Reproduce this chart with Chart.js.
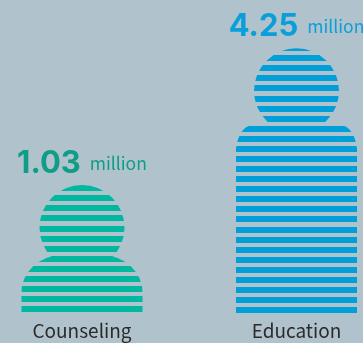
<!DOCTYPE html>
<html>
<head>
<meta charset="utf-8">
<title>People by service</title>
<script src="https://cdn.jsdelivr.net/npm/chart.js@4"></script>
<style>
  html, body { margin: 0; padding: 0; background: #b0c3cc; overflow: hidden; }
  canvas { display: block; }
</style>
</head>
<body>
<canvas id="myChart" width="363" height="343"></canvas>
<script>
const categories = ["Counseling", "Education"];
const values = [1.03, 4.25];
const unit = "million";

const barColors = ["#00b8a0", "#009fd9"];
const valueColors = ["#0f9d88", "#0a9fdb"];

// people are stood on a floor below zero, the head takes up the difference
const axisFloor = -1.98;
const axisCeil = 5.385;

// figure shape, one entry per person
const headRadius = 42.5;
const shoulderDrop = [70, 77];
const shoulderFlat = [20, 44];
const shoulderCurve = [38, 28];
const stripeBottom = [312, 313];

function stripeRects(ctx, bar, i) {
  const left = bar.x - bar.width / 2;
  for (let k = 0; ; k++) {
    let top = stripeBottom[i] - 6 - 10 * k - Math.floor((k + 4) / 13);
    if (top + 6 < bar.y) break;
    ctx.rect(left, top, bar.width, 6);
  }
}

function personPath(ctx, bar, i) {
  const half = bar.width / 2;
  const top = bar.y + shoulderDrop[i];
  const flat = shoulderFlat[i];
  const curve = shoulderCurve[i];

  ctx.moveTo(bar.x + headRadius, bar.y + headRadius);
  ctx.arc(bar.x, bar.y + headRadius, headRadius, 0, Math.PI * 2);

  ctx.moveTo(bar.x - half, bar.base);
  ctx.lineTo(bar.x - half, top + curve);
  ctx.ellipse(bar.x - flat, top + curve, half - flat, curve, 0, Math.PI, Math.PI * 1.5);
  ctx.lineTo(bar.x + flat, top);
  ctx.ellipse(bar.x + flat, top + curve, half - flat, curve, 0, Math.PI * 1.5, Math.PI * 2);
  ctx.lineTo(bar.x + half, bar.base);
  ctx.closePath();
}

// cut each bar down to a striped person
const personClip = {
  id: "personClip",
  beforeDatasetDraw(chart, args) {
    const ctx = chart.ctx;
    const bars = chart.getDatasetMeta(args.index).data;
    ctx.save();
    ctx.beginPath();
    bars.forEach((bar, i) => stripeRects(ctx, bar, i));
    ctx.clip();
    ctx.beginPath();
    bars.forEach((bar, i) => personPath(ctx, bar, i));
    ctx.clip();
  },
  afterDatasetDraw(chart) {
    chart.ctx.restore();
  }
};

// "1.03 million" above each head, centred as one group
const valueLabels = {
  id: "valueLabels",
  afterDatasetsDraw(chart) {
    const ctx = chart.ctx;
    const numberFont = "bold 31px Inter";
    const unitFont = "17.5px 'Noto Sans CJK KR'";
    const gap = 9;
    ctx.save();
    ctx.textAlign = "left";
    ctx.textBaseline = "alphabetic";
    chart.getDatasetMeta(0).data.forEach((bar, i) => {
      const number = values[i].toFixed(2);
      ctx.font = numberFont;
      const numberWidth = ctx.measureText(number).width;
      ctx.font = unitFont;
      const unitWidth = ctx.measureText(unit).width;
      const start = bar.x - (numberWidth + gap + unitWidth) / 2;
      const baseline = bar.y - 12.5;

      ctx.fillStyle = valueColors[i];
      ctx.font = numberFont;
      ctx.fillText(number, start, baseline);
      ctx.font = unitFont;
      ctx.fillText(unit, start + numberWidth + gap, baseline - 2.5);
    });
    ctx.restore();
  }
};

new Chart(document.getElementById("myChart"), {
  type: "bar",
  data: {
    labels: categories,
    datasets: [{
      data: values,
      base: axisFloor,
      backgroundColor: barColors,
      barThickness: 121.5,
      borderWidth: 0,
      clip: false
    }]
  },
  options: {
    responsive: false,
    animation: false,
    layout: { padding: { left: 82, right: 66.5 } },
    plugins: { legend: { display: false }, tooltip: { enabled: false } },
    scales: {
      x: {
        offset: false,
        grid: { display: false },
        border: { display: false },
        afterFit(scale) { scale.height = 30; },
        ticks: {
          autoSkip: false,
          maxRotation: 0,
          padding: -2,
          color: "#2b2b2b",
          font: { family: "'Noto Sans CJK KR'", size: 19 }
        }
      },
      y: { display: false, min: axisFloor, max: axisCeil }
    }
  },
  plugins: [personClip, valueLabels]
});
</script>
</body>
</html>
